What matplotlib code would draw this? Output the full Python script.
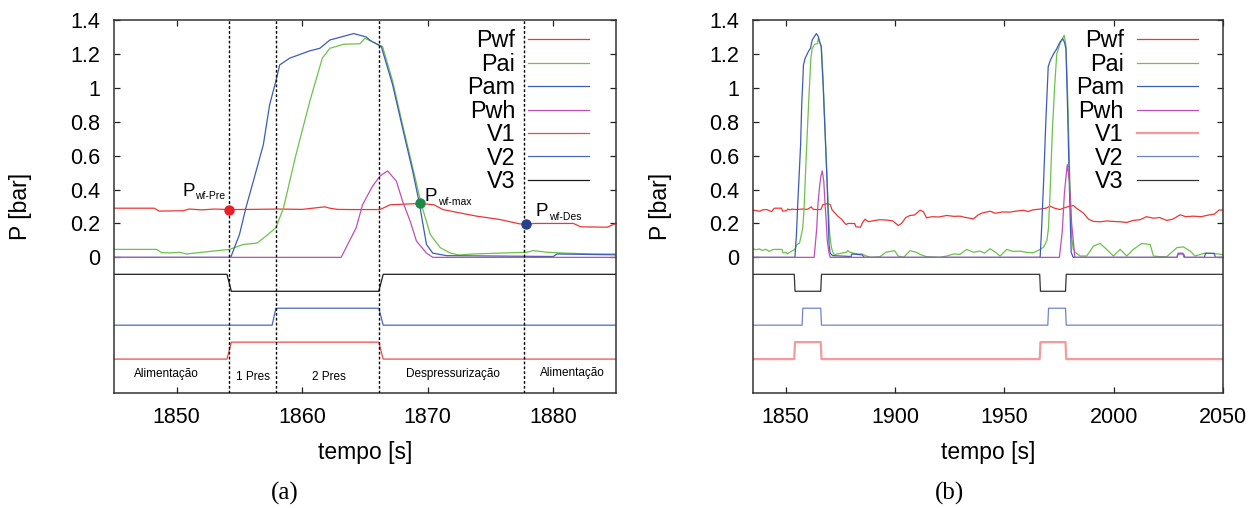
import numpy as np
import matplotlib
matplotlib.use("Agg")
import matplotlib.pyplot as plt
from matplotlib.ticker import FuncFormatter

plt.rcParams['font.family'] = ['Liberation Sans', 'DejaVu Sans']

# ---------------------------------------------------------------- data
# Pressure records [bar] versus time [s]
t_pwf = [1835, 1836.5, 1838.3, 1839.5, 1841.4, 1842.5, 1843.7, 1844.5,
         1845, 1848.2, 1848.6, 1850.5, 1851, 1852, 1853, 1854.2, 1856, 1858,
         1860, 1861.8, 1862.2, 1862.8, 1864, 1866.2, 1867, 1869.4, 1870.5,
         1871.2, 1872.5, 1873.9, 1875.7, 1877.3, 1877.8, 1878.5, 1881.6,
         1882.2, 1884.3, 1885,
         1886.3, 1888, 1890.1, 1893, 1896.3, 1899, 1901.6, 1903, 1905, 1906.9,
         1909, 1911.5, 1913, 1914.5, 1917, 1920, 1923.7, 1927, 1929.8, 1932,
         1935.9, 1938, 1940, 1943.5, 1946, 1949, 1952.7, 1955, 1958.8, 1961,
         1963, 1967.1, 1969, 1970.9, 1973, 1975.5, 1978, 1981.6, 1983, 1986.2,
         1988.5, 1990.8, 1994, 1997, 1999.9, 2003, 2006, 2009, 2012.1, 2015,
         2018.2, 2021, 2024.3, 2027, 2030.4, 2033, 2036.5, 2040, 2043.5, 2046,
         2048.3, 2050]
pwf = [0.278, 0.276, 0.272, 0.28, 0.282, 0.276, 0.27, 0.285,
       0.29, 0.29, 0.273, 0.275, 0.285, 0.28, 0.285, 0.282, 0.283, 0.285,
       0.283, 0.298, 0.29, 0.283, 0.282, 0.282, 0.31, 0.318, 0.31,
       0.282, 0.263, 0.243, 0.224, 0.198, 0.194, 0.2, 0.2,
       0.18, 0.178, 0.2,
       0.225, 0.21, 0.216, 0.222, 0.22, 0.215, 0.188, 0.2, 0.235, 0.247,
       0.25, 0.278, 0.27, 0.233, 0.24, 0.238, 0.247, 0.242, 0.243, 0.236,
       0.227, 0.25, 0.262, 0.272, 0.26, 0.268, 0.267, 0.272, 0.278, 0.27,
       0.28, 0.286, 0.29, 0.302, 0.29, 0.282, 0.295, 0.306, 0.29, 0.261,
       0.225, 0.212, 0.21, 0.215, 0.212, 0.21, 0.206, 0.218, 0.222, 0.24,
       0.231, 0.235, 0.218, 0.225, 0.251, 0.24, 0.243, 0.24, 0.25, 0.255,
       0.28, 0.278]

t_pai = [1835, 1836.5, 1838, 1839.5, 1841, 1842.5, 1844,
         1845, 1848.4, 1848.8, 1849.7, 1850.2, 1850.8, 1852, 1854.2, 1855.3,
         1856.4, 1857.1, 1857.9, 1858.5, 1859.5, 1860.6, 1861.6, 1862.2,
         1863.3, 1864.6, 1865.0, 1866.4, 1867.2, 1868.0, 1868.8, 1869.5,
         1870.2, 1871.0, 1871.8, 1872.5, 1873.6, 1875.7, 1877.9, 1878.4,
         1879.5, 1881, 1883.1, 1885,
         1887, 1889, 1893.2, 1896, 1899.9, 1901.5, 1904, 1906.9, 1909.5, 1912,
         1914.5, 1920.6, 1923.7, 1926.8, 1929.8, 1932.8, 1935.9, 1938.9, 1941,
         1943.5, 1946, 1948.1, 1951.1, 1954, 1957.2, 1960, 1963.3, 1966.4,
         1968, 1969.5, 1970.2, 1971, 1972, 1973, 1974, 1975.5, 1977.4, 1978.2,
         1979, 1980, 1980.8, 1981.5, 1982.4, 1984.7, 1987.7, 1990.8, 1993.8,
         1996.8, 1999.9, 2003, 2006, 2009, 2012.9, 2016.7, 2018.2, 2021.2,
         2024.3, 2028.9, 2031.9, 2035, 2037.2, 2041.8, 2048, 2050]
pai = [0.051, 0.045, 0.05, 0.04, 0.048, 0.035, 0.045,
       0.047, 0.047, 0.027, 0.027, 0.03, 0.02, 0.03, 0.047, 0.076,
       0.084, 0.125, 0.175, 0.29, 0.606, 0.92, 1.175, 1.233,
       1.257, 1.26, 1.292, 1.243, 1.04, 0.78, 0.53, 0.31,
       0.135, 0.057, 0.025, 0.014, 0.02, 0.025, 0.03, 0.04,
       0.03, 0.025, 0.02, 0.02,
       0.008, 0.0, 0.004, 0.031, 0.039, 0.008, 0.0, 0.039, 0.031, 0.015,
       0.004, 0.0, 0.008, 0.02, 0.018, 0.047, 0.03, 0.037, 0.025,
       0.051, 0.03, 0.008, 0.047, 0.035, 0.037, 0.03, 0.027, 0.047,
       0.06, 0.10, 0.17, 0.4, 0.75, 1.0, 1.2, 1.26, 1.31, 1.25,
       0.95, 0.45, 0.12, 0.05, 0.03, 0.008, 0.008, 0.067, 0.082,
       0.047, 0.008, 0.047, 0.008, 0.047, 0.082, 0.076, 0.008, 0.004,
       0.004, 0.057, 0.062, 0.037, 0.008, 0.025, 0.02, 0.015]

t_pam = [1835, 1854.3, 1855.0, 1855.5, 1856.1, 1856.9, 1857.4, 1857.9,
         1858.2, 1859.0, 1860.6, 1861.4, 1862.2, 1863.2, 1864.1, 1865.1,
         1865.4, 1866.3, 1867.2, 1868.0, 1868.8, 1869.3, 1869.9, 1870.4,
         1871.5, 1880.0, 1880.3, 1885, 1886,
         1966.4, 1967, 1968, 1969, 1970.1, 1971, 1972.5, 1974, 1975.5, 1976.7,
         1977.5, 1978.2, 1979, 1979.8, 1980.6, 1981.5, 2029, 2029.5, 2032,
         2032.5, 2041.5, 2042, 2046, 2046.5, 2050]
pam = [0.0, 0.0, 0.135, 0.29, 0.449, 0.665, 0.9, 1.04,
       1.135, 1.175, 1.218, 1.233, 1.282, 1.302, 1.32, 1.30,
       1.28, 1.243, 1.018, 0.76, 0.508, 0.33, 0.076, 0.025,
       0.01, 0.005, 0.02, 0.015, 0.0,
       0.0, 0.15, 0.45, 0.8, 1.125, 1.16, 1.2, 1.23, 1.27, 1.29,
       1.27, 1.23, 0.85, 0.4, 0.03, 0.0, 0.0, 0.02, 0.02,
       0.0, 0.0, 0.024, 0.024, 0.0, 0.0]

t_pwh = [1835, 1863.1, 1864.3, 1864.8, 1865.6, 1866.2, 1866.8, 1867.5,
         1868.0, 1868.6, 1869.1, 1869.9, 1870.4,
         1975.2, 1976.5, 1977.5, 1978.8, 1979.8, 1980.8, 1982.3,
         2028.8, 2029.5, 2031.5, 2032.2, 2050]
pwh = [0.0, 0.0, 0.175, 0.31, 0.42, 0.48, 0.51, 0.449,
       0.33, 0.213, 0.096, 0.025, 0.0,
       0.0, 0.15, 0.38, 0.547, 0.45, 0.2, 0.0,
       0.0, 0.025, 0.025, 0.0, 0.0]

# Valve states (1 = open)
t_v1 = [1835, 1854.0, 1854.35, 1866.1, 1866.45, 1966.2, 1966.55, 1978.0, 1978.35, 2050]
v1 = [0, 0, 1, 1, 0, 0, 1, 1, 0, 0]
t_v2 = [1835, 1857.6, 1857.9, 1866.1, 1866.45, 1969.9, 1970.25, 1978.0, 1978.35, 2050]
v2 = [0, 0, 1, 1, 0, 0, 1, 1, 0, 0]
t_v3 = [1835, 1854.0, 1854.35, 1866.1, 1866.45, 1966.2, 1966.55, 1978.0, 1978.35, 2050]
v3 = [1, 1, 0, 0, 1, 1, 0, 0, 1, 1]

# Cycle stage boundaries and names (detail view)
stage_bounds = [1854.2, 1857.9, 1866.1, 1877.7]
stage_names = ["Alimentação", "1 Pres", "2 Pres", "Despressurização", "Alimentação"]
stage_centers = [1849.2, 1856.1, 1862.1, 1872.0, 1881.5]

# Characteristic bottom-hole pressure points
point_times = [1854.2, 1869.4, 1877.8]
point_names = ["wf-Pre", "wf-max", "wf-Des"]

yticks = [0, 0.2, 0.4, 0.6, 0.8, 1.0, 1.2, 1.4]

# ---------------------------------------------------------------- style
C_PWF = '#ee3535'
C_PAI = '#6cc24a'
C_PAM = '#3d5cb8'
C_PWH = '#c04fb4'
C_V1 = '#f04a4a'
C_V2 = '#4a68c0'
C_V3 = '#1a1a1a'
point_colors = ['#e8202a', '#1b8a44', '#26408c']
point_offsets = [(-34, 10), (3, 1.7), (7, 6)]

# valve traces are drawn as offset logic levels below the pressure axis
V_BASE = {'V1': -0.6, 'V2': -0.4, 'V3': -0.2}
V_AMP = 0.1

W, H = 1258, 508
fig = plt.figure(figsize=(W / 100, H / 100), dpi=100)
ax_a = fig.add_axes([114 / W, 1 - 393 / H, 502 / W, 373 / H])
ax_b = fig.add_axes([752.7 / W, 1 - 393 / H, 470.3 / W, 373 / H])


def draw_panel(ax, xlim, xticks, v1c, v1w, v2c, v3c, v3w):
    lw = 0.9
    ax.plot(t_pwf, pwf, color=C_PWF, lw=lw, label="Pwf")
    ax.plot(t_pai, pai, color=C_PAI, lw=lw, label="Pai")
    ax.plot(t_pam, pam, color=C_PAM, lw=lw, label="Pam")
    ax.plot(t_pwh, pwh, color=C_PWH, lw=lw, label="Pwh")
    ax.plot(t_v1, V_BASE['V1'] + V_AMP * np.asarray(v1), color=v1c, lw=v1w, label="V1")
    ax.plot(t_v2, V_BASE['V2'] + V_AMP * np.asarray(v2), color=v2c, lw=lw, label="V2")
    ax.plot(t_v3, V_BASE['V3'] + V_AMP * np.asarray(v3), color=v3c, lw=v3w, label="V3")

    ax.set_xlim(*xlim)
    ax.set_ylim(-0.8, 1.4)
    ax.set_xticks(xticks)
    ax.set_yticks(yticks)
    ax.yaxis.set_major_formatter(FuncFormatter(lambda v, p: '%g' % v))
    ax.tick_params(direction='in', top=True, right=True, length=4.5,
                   width=0.9, labelsize=15.5, pad=10, colors='#222222',
                   labelcolor='black')
    for s in ax.spines.values():
        s.set_linewidth(1.1)
        s.set_color('#333333')
    ax.set_xlabel("tempo [s]", fontsize=16.5)
    ax.xaxis.set_label_coords(0.5, -0.13)
    ax.set_ylabel("P [bar]", fontsize=16.5)

    leg = ax.legend(loc='upper right', bbox_to_anchor=(0.946, 0.975),
                    frameon=False, markerfirst=False, fontsize=16.8,
                    handlelength=2.6, handletextpad=0.56, labelspacing=0.02,
                    borderpad=0, borderaxespad=0)
    return leg


draw_panel(ax_a, (1845, 1885), [1850, 1860, 1870, 1880],
           C_V1, 0.9, C_V2, C_V3, 0.9)
ax_a.yaxis.set_label_coords(-0.163, 0.5)

draw_panel(ax_b, (1835, 2050), [1850, 1900, 1950, 2000, 2050],
           '#f49a9a', 1.6, '#7085c8', '#333333', 0.9)
ax_b.yaxis.set_label_coords(-0.172, 0.5)

# stage boundaries and names
for tb in stage_bounds:
    ax_a.axvline(tb, color='black', lw=1.0, ls=(0, (2, 1.5)), zorder=3)
stage_y = [-0.708, -0.722, -0.722, -0.708, -0.698]
for name, tc, ty in zip(stage_names, stage_centers, stage_y):
    ax_a.text(tc, ty, name, fontsize=8.5, ha='center', va='baseline')

# characteristic points on the Pwf curve
for tp, name, col, off in zip(point_times, point_names, point_colors, point_offsets):
    vp = float(np.interp(tp, t_pwf, pwf))
    ax_a.plot([tp], [vp], 'o', color=col, ms=6.5, zorder=5)
    p = ax_a.annotate('P', xy=(tp, vp), xytext=off, textcoords='offset points',
                      fontsize=13.5, ha='left', va='baseline')
    ax_a.annotate(name, xy=(1, 0), xycoords=p, xytext=(0.5, 0.3),
                  textcoords='offset points', fontsize=7.5,
                  ha='left', va='baseline')

# sub-figure captions
fig.text(285 / W, 1 - 493 / H, "(a)", fontsize=18, ha='center', va='center',
         family=['Liberation Serif', 'DejaVu Serif'])
fig.text(950 / W, 1 - 493 / H, "(b)", fontsize=18, ha='center', va='center',
         family=['Liberation Serif', 'DejaVu Serif'])

fig.savefig("out.png", dpi=100)
